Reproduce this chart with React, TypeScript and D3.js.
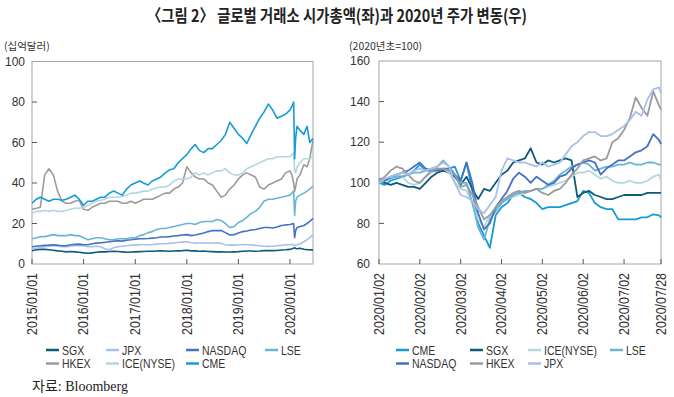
import React from "react";
import * as d3 from "d3";

const W = 674;
const H = 397;

const TITLE = "〈그림 2〉 글로벌 거래소 시가총액(좌)과 2020년 주가 변동(우)";
const LEFT_UNIT = "(십억달러)";
const RIGHT_UNIT = "(2020년초=100)";
const SOURCE = "자료: Bloomberg";

// ---------- Left chart: market cap (USD bn) ----------
const parse = d3.timeParse("%Y-%m-%d");
const L_MONTHLY = d3.timeMonth.range(new Date(2015, 0, 1), new Date(2020, 0, 1));
const L_2020 = [
  "2020-01-01", "2020-01-15", "2020-01-27", "2020-02-03", "2020-02-10", "2020-02-20",
  "2020-03-12", "2020-04-08", "2020-05-01", "2020-05-20", "2020-06-12",
];
const L_DATES: Date[] = [...L_MONTHLY, ...L_2020.map((s) => parse(s) as Date)];
const L_TICKS = ["2015-01-01", "2016-01-01", "2017-01-01", "2018-01-01", "2019-01-01", "2020-01-01"];
const L_YTICKS = [0, 20, 40, 60, 80, 100];

const SGX_L = [6.5, 7, 7.2, 7.2, 7, 6.8, 6.5, 6.3, 6, 6.2, 6, 5.8, 5.5, 5.3, 5.5, 5.8, 6, 6, 6.2, 6.3, 6.2, 6, 5.8, 5.9, 6, 6.1, 6.2, 6.3, 6.3, 6.4, 6.5, 6.4, 6.3, 6.4, 6.5, 6.6, 6.8, 6.5, 6.5, 6.3, 6.4, 6.2, 6.1, 6, 6, 5.9, 5.9, 6, 6.1, 6.3, 6.4, 6.4, 6.3, 6.4, 6.6, 6.7, 6.6, 6.7, 6.9, 7, 7.2, 7.5, 7.8, 8, 7.7, 7.5, 7.8, 7.3, 7.1, 7, 7];
const JPX_L = [7.5, 7.8, 8.2, 8.5, 8.8, 9, 8.8, 8.6, 8.5, 8.8, 9, 9.2, 9, 8.5, 8.5, 8.8, 8.5, 7.5, 7, 8, 8.5, 8.8, 9, 9.3, 9.3, 9.5, 9.5, 9.4, 9.6, 9.8, 10, 10, 10.2, 10.4, 10.6, 10.8, 11, 10.5, 10.3, 10.4, 10.5, 10.3, 10.4, 10.5, 10.2, 9.5, 9.3, 9.3, 9.4, 9.6, 9.5, 9.5, 9.2, 9, 8.8, 8.7, 8.8, 9, 9.2, 9.5, 9.5, 9.6, 9.6, 9, 9.3, 9.5, 10, 11, 12, 13, 14.5];
const NASDAQ_L = [8.5, 8.8, 9, 9.2, 9.3, 9.5, 9.3, 9, 9, 9.5, 9.7, 9.8, 9.5, 9.5, 10, 10.3, 10.5, 10.7, 11, 11.3, 11.5, 11.3, 11.8, 12, 12.3, 12.5, 12.5, 12.6, 12.8, 13, 13.3, 13.3, 13.5, 13.8, 14, 14.3, 14.5, 14, 14.3, 14.8, 15.3, 16, 16.5, 16.5, 16.5, 15.5, 14.3, 14.5, 15.3, 16, 16.3, 16.8, 17, 17.5, 18, 18, 17.8, 18.3, 19, 19.3, 19.5, 19.8, 20, 13, 16.5, 18, 18.5, 19, 20, 21, 22.5];
const LSE_L = [12.5, 13, 13.5, 13.5, 14, 14.5, 14, 14, 14, 14.5, 14, 14, 13, 12, 12.5, 13, 13, 12.5, 12, 12, 12.5, 12.5, 12.5, 13, 13, 14, 14.5, 15.5, 16, 17, 17.5, 17.5, 18, 18.5, 19, 19.5, 20, 20, 19.5, 20.5, 21, 21, 21, 22, 21.5, 20, 18, 18.5, 20.5, 21.5, 23, 25, 26, 28, 31, 32, 32, 32.5, 33, 33.5, 34, 35, 36, 24, 31, 33, 34, 35, 36, 37, 38.5];
const HKEX_L = [27, 27.5, 28, 44, 47, 44, 36, 31, 30, 30, 31, 31.5, 27, 26.5, 28, 29, 30, 30, 31, 31, 31, 30, 30, 31, 30, 31, 32, 32, 32, 33, 34, 35, 35, 37, 38, 40, 48, 45, 43, 42, 42, 40, 39, 36, 33, 34, 37, 39, 42, 44, 45, 44, 43, 38, 37, 39, 40, 41, 42, 45, 46, 44, 40, 36, 38, 42, 44, 49, 48, 52, 61];
const ICE_L = [25, 26, 26, 26.5, 26, 26.5, 26, 26, 26.5, 27, 27.5, 27.5, 28, 29, 30, 31, 31.5, 32, 33, 33, 33, 33.5, 34, 35, 35, 35.5, 36, 36, 37, 37.5, 38, 38, 39, 41, 42, 42, 42, 43, 45, 44, 45, 44, 45, 46, 46, 47, 45, 44, 44, 45, 47, 48, 49, 50, 51, 52, 52, 53, 53, 53, 53, 54, 55, 46, 45, 48, 50, 52, 52, 52, 53];
const CME_L = [30, 32, 33, 32, 31, 32, 32, 31.5, 32, 33, 34, 32, 29, 31, 31, 32, 33, 33, 35, 36, 35, 34, 37, 39, 40, 41, 40, 39, 41, 42, 43, 45, 46.5, 47, 50, 52, 54, 57, 59, 56, 55, 57, 57, 59, 61, 64, 70, 67, 64, 62, 59.5, 64, 68, 72, 75, 79, 76, 72, 73, 74, 76, 78, 80, 52, 62, 68, 66, 64, 68, 60, 62];

// ---------- Right chart: index (start of 2020 = 100), by trading day ----------
const R_IDX = [...d3.range(0, 145, 3), 145];
const R_TICK_IDX = [0, 21, 42, 63, 84, 105, 126, 145];
const R_TICK_LABELS = ["2020/01/02", "2020/02/02", "2020/03/02", "2020/04/02", "2020/05/02", "2020/06/02", "2020/07/02", "2020/07/28"];
const R_YTICKS = [60, 80, 100, 120, 140, 160];

const CME_R = [100, 99, 101, 102, 103, 104, 106, 109, 106, 106, 107, 106, 107, 108, 101, 110, 96, 80, 74, 68, 84, 88, 90, 94, 95, 93, 92, 90, 87, 88, 88, 88, 89, 90, 91, 96, 95, 90, 88, 87, 87, 82, 82, 82, 82, 83, 83, 84.5, 84, 83];
const SGX_R = [101, 100, 99, 100, 99, 98, 98, 97, 100, 103, 105, 106, 105, 103, 99, 103, 97, 92, 97, 96, 100, 104, 106, 110, 111, 112, 117, 110, 109, 111, 110, 111, 112, 111, 93, 95, 96, 94, 93, 92, 92, 93, 94, 94, 94, 94, 95, 95, 95, 95];
const ICE_R = [100, 101, 102, 104, 103, 100, 99, 100, 103, 105, 106, 107, 105, 100, 97, 96, 90, 82, 78, 84, 87, 90, 92, 93, 94, 95, 96, 97, 97, 98, 99, 100, 101, 103, 105, 105, 106, 104, 102, 103, 101, 100, 100, 101, 100, 100, 101, 103, 104, 101];
const LSE_R = [100, 101, 102, 103, 103, 104, 105, 105, 106, 107, 108, 111, 108, 104, 100, 100, 90, 78, 72, 82, 86, 90, 92, 94, 95, 96, 96, 97, 97, 99, 101, 104, 106, 108, 109, 110, 109, 106, 107, 108, 108, 109, 109, 110, 109, 109, 110, 110, 109, 109];
const NASDAQ_R = [102, 101, 103, 104, 105, 106, 108, 110, 107, 106, 106, 107, 107, 104, 101, 110, 100, 85, 77, 80, 88, 92, 96, 102, 105, 103, 100, 103, 101, 99, 100, 103, 104, 107, 109, 110, 111, 110, 104, 107, 109, 111, 111, 113, 115, 116, 118, 124, 121, 119];
const HKEX_R = [101, 103, 106, 108, 107, 104, 101, 100, 103, 106, 107, 107, 106, 104, 98, 99, 94, 88, 82, 84, 88, 91, 93, 95, 96, 95, 96, 97, 95, 94, 96, 97, 100, 104, 107, 111, 112, 113, 111, 112, 120, 122, 126, 132, 142, 137, 133, 145, 138, 136];
const JPX_R = [100, 102, 103, 104, 105, 104, 106, 107, 106, 107, 108, 110, 108, 100, 94, 93, 91, 87, 85, 89, 93, 106, 112, 111, 110, 110, 109, 108, 110, 108, 109, 110, 114, 118, 120, 123, 125, 125, 123, 123, 124, 126, 128, 131, 135, 133, 141, 146, 147, 144];

const COLORS: Record<string, string> = {
  SGX: "#0e5a78",
  JPX: "#a9c1e8",
  NASDAQ: "#4472c4",
  LSE: "#6ab4d4",
  HKEX: "#9b9b9b",
  "ICE(NYSE)": "#b4d6de",
  CME: "#179bd7",
};

const LEFT_SERIES: [string, number[]][] = [
  ["SGX", SGX_L], ["JPX", JPX_L], ["NASDAQ", NASDAQ_L], ["LSE", LSE_L],
  ["HKEX", HKEX_L], ["ICE(NYSE)", ICE_L], ["CME", CME_L],
];
const RIGHT_SERIES: [string, number[]][] = [
  ["CME", CME_R], ["SGX", SGX_R], ["ICE(NYSE)", ICE_R], ["LSE", LSE_R],
  ["NASDAQ", NASDAQ_R], ["HKEX", HKEX_R], ["JPX", JPX_R],
];

const LEFT_LEGEND_ROWS = [["SGX", "JPX", "NASDAQ", "LSE"], ["HKEX", "ICE(NYSE)", "CME"]];
const RIGHT_LEGEND_ROWS = [["CME", "SGX", "ICE(NYSE)", "LSE"], ["NASDAQ", "HKEX", "JPX"]];

const NUM_FONT = "'Liberation Sans', Arial, sans-serif";
const KR_FONT = "'Noto Sans CJK KR', sans-serif";

export default function App() {
  const xL = d3.scaleTime().domain([new Date(2015, 0, 1), new Date(2020, 5, 12)]).range([32, 313]);
  const yL = d3.scaleLinear().domain([0, 100]).range([264, 61.5]);
  const xR = d3.scaleLinear().domain([0, 145]).range([379, 661]);
  const yR = d3.scaleLinear().domain([60, 160]).range([264, 61]);

  const lineL = d3.line<number>().x((_, i) => xL(L_DATES[i])).y((v) => yL(v));
  const lineR = d3.line<number>().x((_, i) => xR(R_IDX[i])).y((v) => yR(v));
  const fmt = d3.timeFormat("%Y/%m/%d");

  const frame = (x0: number, x1: number, y0: number, y1: number) => (
    <rect x={x0} y={y0} width={x1 - x0} height={y1 - y0} fill="none" stroke="#a6a6a6" strokeWidth={1} />
  );

  const legend = (rows: string[][], cols: number[], y0: number) =>
    rows.map((row, r) =>
      row.map((name, c) => (
        <g key={name} transform={`translate(${cols[c]},${y0 + r * 13.5})`}>
          <line x1={0} x2={13} y1={0} y2={0} stroke={COLORS[name]} strokeWidth={2.5} />
          <g transform="translate(16,0) scale(0.84,1)">
            <text x={0} y={0} dy="0.36em" fontSize={12.5} fontFamily={NUM_FONT} fill="#333">
              {name}
            </text>
          </g>
        </g>
      ))
    );

  return (
    <svg width={W} height={H} style={{ position: "absolute", left: 0, top: 0, background: "#fff" }}>
      <text x={337} y={22} textAnchor="middle" fontSize={17} fontWeight={700} fontFamily={KR_FONT}
        fill="#222" textLength={380} lengthAdjust="spacingAndGlyphs">
        {TITLE}
      </text>
      <text x={4} y={50} fontSize={10.5} fontFamily={KR_FONT} fill="#333">{LEFT_UNIT}</text>
      <text x={349} y={50} fontSize={10.5} fontFamily={KR_FONT} fill="#333">{RIGHT_UNIT}</text>

      {/* Left chart */}
      {frame(32, 313, 61.5, 264)}
      {L_YTICKS.map((t) => (
        <g key={"ly" + t}>
          {t > 0 && t < 100 && <line x1={32} x2={37} y1={yL(t)} y2={yL(t)} stroke="#595959" />}
          <text x={25} y={yL(t)} dy="0.35em" textAnchor="end" fontSize={12} fontFamily={NUM_FONT} fill="#333">{t}</text>
        </g>
      ))}
      {L_TICKS.map((s) => {
        const d = parse(s) as Date;
        const x = xL(d);
        return (
          <g key={"lx" + s}>
            <line x1={x} x2={x} y1={264} y2={259} stroke="#595959" />
            <text transform={`translate(${x},273) rotate(-90)`} textAnchor="end" dy="0.35em" fontSize={14}
              fontFamily={NUM_FONT} fill="#333" textLength={62} lengthAdjust="spacingAndGlyphs">
              {fmt(d)}
            </text>
          </g>
        );
      })}
      {LEFT_SERIES.map(([name, vals]) => (
        <path key={"l" + name} d={lineL(vals) || ""} fill="none" stroke={COLORS[name]} strokeWidth={1.6} strokeLinejoin="round" />
      ))}

      {/* Right chart */}
      {frame(379, 661, 61, 264)}
      {R_YTICKS.map((t) => (
        <g key={"ry" + t}>
          {t > 60 && t < 160 && <line x1={379} x2={384} y1={yR(t)} y2={yR(t)} stroke="#595959" />}
          <text x={370} y={yR(t)} dy="0.35em" textAnchor="end" fontSize={12} fontFamily={NUM_FONT} fill="#333">{t}</text>
        </g>
      ))}
      {R_TICK_IDX.map((t, i) => {
        const x = xR(t);
        return (
          <g key={"rx" + t}>
            <line x1={x} x2={x} y1={264} y2={259} stroke="#595959" />
            <text transform={`translate(${x},273) rotate(-90)`} textAnchor="end" dy="0.35em" fontSize={14}
              fontFamily={NUM_FONT} fill="#333" textLength={62} lengthAdjust="spacingAndGlyphs">
              {R_TICK_LABELS[i]}
            </text>
          </g>
        );
      })}
      {RIGHT_SERIES.map(([name, vals]) => (
        <path key={"r" + name} d={lineR(vals) || ""} fill="none" stroke={COLORS[name]} strokeWidth={1.8} strokeLinejoin="round" />
      ))}

      {legend(LEFT_LEGEND_ROWS, [46, 106, 186, 265], 350)}
      {legend(RIGHT_LEGEND_ROWS, [396, 470, 528, 610], 350)}

      <text x={32} y={391} fontSize={14} fontFamily="'Liberation Serif', 'Noto Sans CJK KR', serif" fill="#222">
        {SOURCE}
      </text>
    </svg>
  );
}
